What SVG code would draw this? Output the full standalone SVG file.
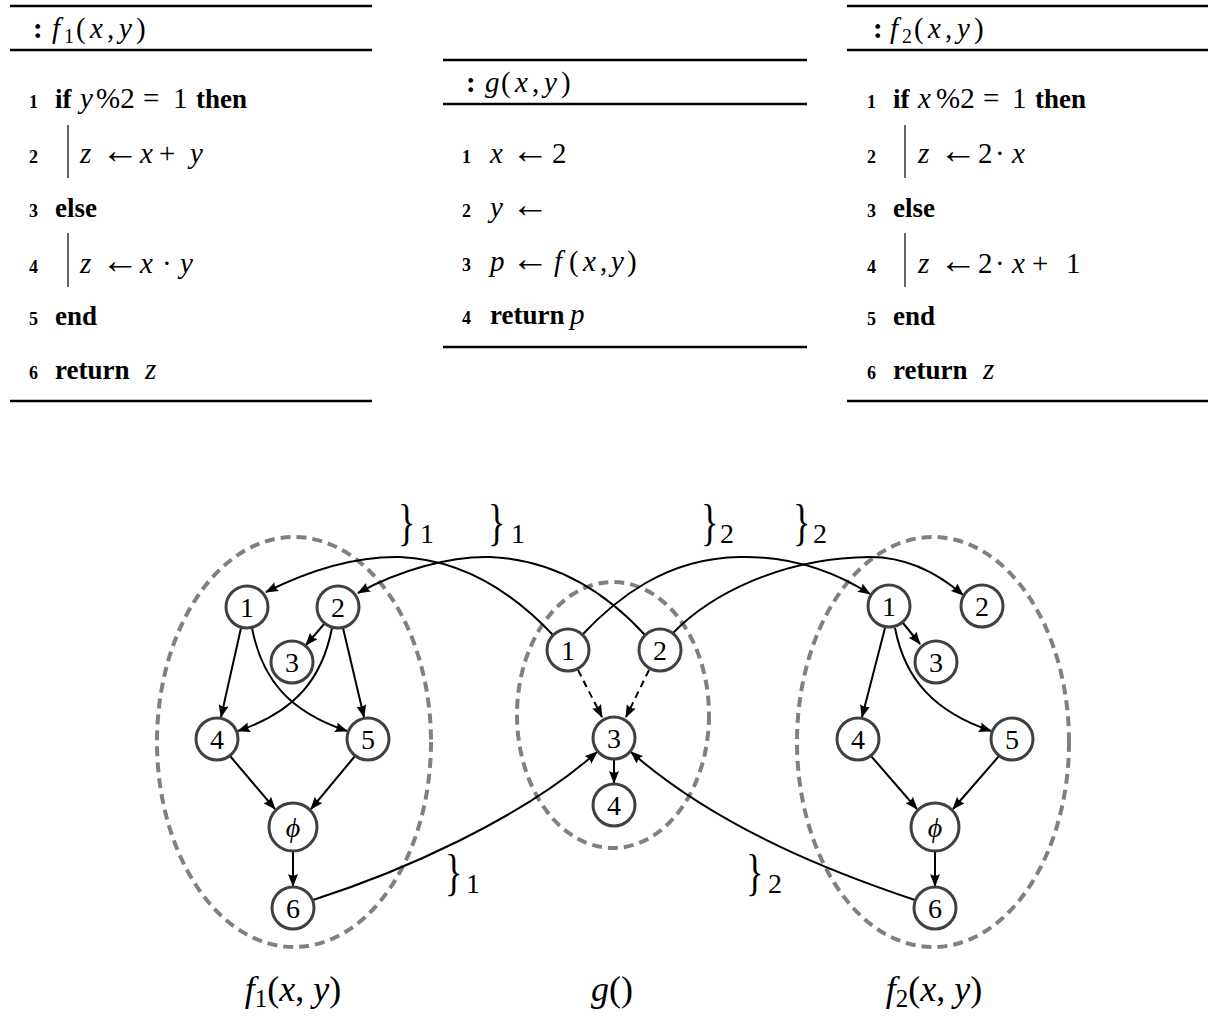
<svg xmlns="http://www.w3.org/2000/svg" width="1208" height="1016" viewBox="0 0 1208 1016">
<defs>
<marker id="ah" markerUnits="userSpaceOnUse" markerWidth="13" markerHeight="10" refX="12" refY="5" orient="auto">
<path d="M0,0 L13,5 L0,10 Q3,5 0,0 z" fill="#000"/>
</marker>
<style>
.rule{stroke:#000;stroke-width:2.6}
.bar{stroke:#333;stroke-width:1.5}
text{font-family:"Liberation Serif","Times New Roman","DejaVu Serif",serif;fill:#000}
.t{font-size:27px}
.m{font-size:29px}
.b{font-weight:bold}
.i{font-style:italic}
.ar{font-size:38px}
.num{font-size:18px;font-weight:bold}
.sub{font-size:20px}
.node circle{fill:#fff;stroke:#404040;stroke-width:3}
.nl{font-size:28px;text-anchor:middle}
.edge{fill:none;stroke:#000;stroke-width:2;marker-end:url(#ah)}
.dash{stroke-dasharray:7 5}
.grp{fill:none;stroke:#808080;stroke-width:4;stroke-dasharray:10 6}
.br{font-size:36px}
.bs{font-size:28px}
.lab{font-size:36px;text-anchor:middle}
.lsub{font-size:25px}
</style>
</defs>

<g id="algo-f1">
<line class="rule" x1="10" y1="6" x2="372" y2="6"/>
<line class="rule" x1="10" y1="50" x2="372" y2="50"/>
<line class="rule" x1="10" y1="401" x2="372" y2="401"/>
<text y="38" class="m"><tspan x="33" class="b">:</tspan><tspan x="52" class="i">f</tspan><tspan x="64" dy="5" class="sub">1</tspan><tspan x="76" dy="-5">(</tspan><tspan x="90" class="i">x</tspan><tspan x="107">,</tspan><tspan x="119" class="i">y</tspan><tspan x="136">)</tspan></text>
<text x="29" y="108" class="num">1</text>
<text y="108" class="t"><tspan x="55" class="b">if</tspan><tspan x="80" class="i m">y</tspan><tspan x="96" class="m">%2</tspan><tspan x="143" class="m">=</tspan><tspan x="173" class="m">1</tspan><tspan x="196" class="b">then</tspan></text>
<text x="29" y="163" class="num">2</text>
<line class="bar" x1="68" y1="125" x2="68" y2="178"/>
<text y="163" class="m"><tspan x="80" class="i">z</tspan><tspan x="101" class="ar">←</tspan><tspan x="140" class="i">x</tspan><tspan x="159">+</tspan><tspan x="190" class="i">y</tspan></text>
<text x="29" y="217" class="num">3</text>
<text x="55" y="217" class="t b">else</text>
<text x="29" y="273" class="num">4</text>
<line class="bar" x1="68" y1="233" x2="68" y2="287"/>
<text y="273" class="m"><tspan x="80" class="i">z</tspan><tspan x="101" class="ar">←</tspan><tspan x="140" class="i">x</tspan><tspan x="162">·</tspan><tspan x="180" class="i">y</tspan></text>
<text x="29" y="325" class="num">5</text>
<text x="55" y="325" class="t b">end</text>
<text x="29" y="379" class="num">6</text>
<text y="379" class="t"><tspan x="55" class="b">return</tspan><tspan x="145" class="i m">z</tspan></text>
</g>

<g id="algo-g">
<line class="rule" x1="443" y1="60" x2="807" y2="60"/>
<line class="rule" x1="443" y1="104" x2="807" y2="104"/>
<line class="rule" x1="443" y1="347" x2="807" y2="347"/>
<text y="92" class="m"><tspan x="466" class="b">:</tspan><tspan x="485" class="i">g</tspan><tspan x="501">(</tspan><tspan x="515" class="i">x</tspan><tspan x="532">,</tspan><tspan x="544" class="i">y</tspan><tspan x="561">)</tspan></text>
<text x="462" y="163" class="num">1</text>
<text y="163" class="m"><tspan x="490" class="i">x</tspan><tspan x="511" class="ar">←</tspan><tspan x="552">2</tspan></text>
<text x="462" y="217" class="num">2</text>
<text y="217" class="m"><tspan x="490" class="i">y</tspan><tspan x="511" class="ar">←</tspan></text>
<text x="462" y="271" class="num">3</text>
<text y="271" class="m"><tspan x="490" class="i">p</tspan><tspan x="511" class="ar">←</tspan><tspan x="554" class="i">f</tspan><tspan x="569">(</tspan><tspan x="583" class="i">x</tspan><tspan x="600">,</tspan><tspan x="611" class="i">y</tspan><tspan x="627">)</tspan></text>
<text x="462" y="324" class="num">4</text>
<text y="324" class="t"><tspan x="490" class="b">return</tspan><tspan x="570" class="i m">p</tspan></text>
</g>

<g id="algo-f2">
<line class="rule" x1="847" y1="6" x2="1208" y2="6"/>
<line class="rule" x1="847" y1="50" x2="1208" y2="50"/>
<line class="rule" x1="847" y1="401" x2="1208" y2="401"/>
<text y="38" class="m"><tspan x="873" class="b">:</tspan><tspan x="890" class="i">f</tspan><tspan x="902" dy="5" class="sub">2</tspan><tspan x="914" dy="-5">(</tspan><tspan x="928" class="i">x</tspan><tspan x="945">,</tspan><tspan x="957" class="i">y</tspan><tspan x="974">)</tspan></text>
<text x="867" y="108" class="num">1</text>
<text y="108" class="t"><tspan x="893" class="b">if</tspan><tspan x="918" class="i m">x</tspan><tspan x="936" class="m">%2</tspan><tspan x="983" class="m">=</tspan><tspan x="1012" class="m">1</tspan><tspan x="1035" class="b">then</tspan></text>
<text x="867" y="163" class="num">2</text>
<line class="bar" x1="905" y1="125" x2="905" y2="178"/>
<text y="163" class="m"><tspan x="918" class="i">z</tspan><tspan x="939" class="ar">←</tspan><tspan x="978">2</tspan><tspan x="995">·</tspan><tspan x="1012" class="i">x</tspan></text>
<text x="867" y="217" class="num">3</text>
<text x="893" y="217" class="t b">else</text>
<text x="867" y="273" class="num">4</text>
<line class="bar" x1="905" y1="233" x2="905" y2="287"/>
<text y="273" class="m"><tspan x="918" class="i">z</tspan><tspan x="939" class="ar">←</tspan><tspan x="978">2</tspan><tspan x="995">·</tspan><tspan x="1012" class="i">x</tspan><tspan x="1032">+</tspan><tspan x="1066">1</tspan></text>
<text x="867" y="325" class="num">5</text>
<text x="893" y="325" class="t b">end</text>
<text x="867" y="379" class="num">6</text>
<text y="379" class="t"><tspan x="893" class="b">return</tspan><tspan x="983" class="i m">z</tspan></text>
</g>

<g id="clusters">
<ellipse class="grp" cx="294" cy="742" rx="137" ry="205"/>
<ellipse class="grp" cx="613" cy="715" rx="96" ry="133"/>
<ellipse class="grp" cx="933" cy="742" rx="136" ry="205"/>
</g>

<g id="connectors">
<path class="edge" d="M553,635 C520,600 470,560 400,557 C350,556 300,575 266,592"/>
<path class="edge" d="M645,635 C610,597 560,560 490,557 C450,556 400,570 358,593"/>
<path class="edge" d="M582,635 C615,600 665,558 740,557 C790,556 835,572 870,594"/>
<path class="edge" d="M673,633 C710,595 780,558 870,557 C910,557 940,575 963,595"/>
<path class="edge" d="M313,900 C400,872 520,820 597,752"/>
<path class="edge" d="M915,900 C840,875 720,830 631,752"/>
<path class="edge dash" d="M578,670 L602,717"/>
<path class="edge dash" d="M649,670 L626,717"/>
<path class="edge" d="M614,759 L614,783"/>
<path class="edge" d="M325,623 L306,645"/>
<path class="edge" d="M241,628 L221,717"/>
<path class="edge" d="M252,628 C262,680 290,712 347,731"/>
<path class="edge" d="M332,628 C322,680 294,712 238,731"/>
<path class="edge" d="M343,628 L364,717"/>
<path class="edge" d="M230,756 L275,809"/>
<path class="edge" d="M355,756 L311,809"/>
<path class="edge" d="M293,852 L293,886"/>
<path class="edge" d="M903,623 L920,644"/>
<path class="edge" d="M885,628 L862,717"/>
<path class="edge" d="M895,628 C905,680 935,712 991,731"/>
<path class="edge" d="M871,756 L917,809"/>
<path class="edge" d="M999,756 L953,809"/>
<path class="edge" d="M935,852 L935,886"/>
</g>

<g id="f1-n1" class="node"><circle cx="247" cy="607" r="21"/><text class="nl" x="247" y="617">1</text></g>
<g id="f1-n2" class="node"><circle cx="338" cy="607" r="21"/><text class="nl" x="338" y="617">2</text></g>
<g id="f1-n3" class="node"><circle cx="292" cy="662" r="21"/><text class="nl" x="292" y="672">3</text></g>
<g id="f1-n4" class="node"><circle cx="217" cy="739" r="21"/><text class="nl" x="217" y="749">4</text></g>
<g id="f1-n5" class="node"><circle cx="368" cy="739" r="21"/><text class="nl" x="368" y="749">5</text></g>
<g id="f1-phi" class="node"><circle cx="293" cy="827" r="24"/><text class="nl i" x="293" y="837">ϕ</text></g>
<g id="f1-n6" class="node"><circle cx="293" cy="908" r="21"/><text class="nl" x="293" y="918">6</text></g>

<g id="g-n1" class="node"><circle cx="568" cy="650" r="21"/><text class="nl" x="568" y="660">1</text></g>
<g id="g-n2" class="node"><circle cx="660" cy="650" r="21"/><text class="nl" x="660" y="660">2</text></g>
<g id="g-n3" class="node"><circle cx="614" cy="738" r="21"/><text class="nl" x="614" y="748">3</text></g>
<g id="g-n4" class="node"><circle cx="614" cy="805" r="21"/><text class="nl" x="614" y="815">4</text></g>

<g id="f2-n1" class="node"><circle cx="889" cy="606" r="21"/><text class="nl" x="889" y="616">1</text></g>
<g id="f2-n2" class="node"><circle cx="982" cy="606" r="21"/><text class="nl" x="982" y="616">2</text></g>
<g id="f2-n3" class="node"><circle cx="936" cy="662" r="21"/><text class="nl" x="936" y="672">3</text></g>
<g id="f2-n4" class="node"><circle cx="858" cy="739" r="21"/><text class="nl" x="858" y="749">4</text></g>
<g id="f2-n5" class="node"><circle cx="1012" cy="739" r="21"/><text class="nl" x="1012" y="749">5</text></g>
<g id="f2-phi" class="node"><circle cx="935" cy="827" r="24"/><text class="nl i" x="935" y="837">ϕ</text></g>
<g id="f2-n6" class="node"><circle cx="935" cy="908" r="21"/><text class="nl" x="935" y="918">6</text></g>

<g id="edge-labels">
<text class="br" transform="translate(398,539) scale(1,1.4)">}</text><text class="bs" x="420" y="543">1</text>
<text class="br" transform="translate(488,539) scale(1,1.4)">}</text><text class="bs" x="511" y="543">1</text>
<text class="br" transform="translate(701,539) scale(1,1.4)">}</text><text class="bs" x="720" y="543">2</text>
<text class="br" transform="translate(793,539) scale(1,1.4)">}</text><text class="bs" x="813" y="543">2</text>
<text class="br" transform="translate(445,889) scale(1,1.4)">}</text><text class="bs" x="466" y="893">1</text>
<text class="br" transform="translate(746,889) scale(1,1.4)">}</text><text class="bs" x="768" y="893">2</text>
</g>

<g id="titles">
<text class="lab" x="293" y="1001"><tspan class="i">f</tspan><tspan class="lsub" dy="6">1</tspan><tspan dy="-6">(</tspan><tspan class="i">x</tspan>, <tspan class="i">y</tspan>)</text>
<text class="lab" x="612" y="1001"><tspan class="i">g</tspan>()</text>
<text class="lab" x="934" y="1001"><tspan class="i">f</tspan><tspan class="lsub" dy="6">2</tspan><tspan dy="-6">(</tspan><tspan class="i">x</tspan>, <tspan class="i">y</tspan>)</text>
</g>
</svg>
